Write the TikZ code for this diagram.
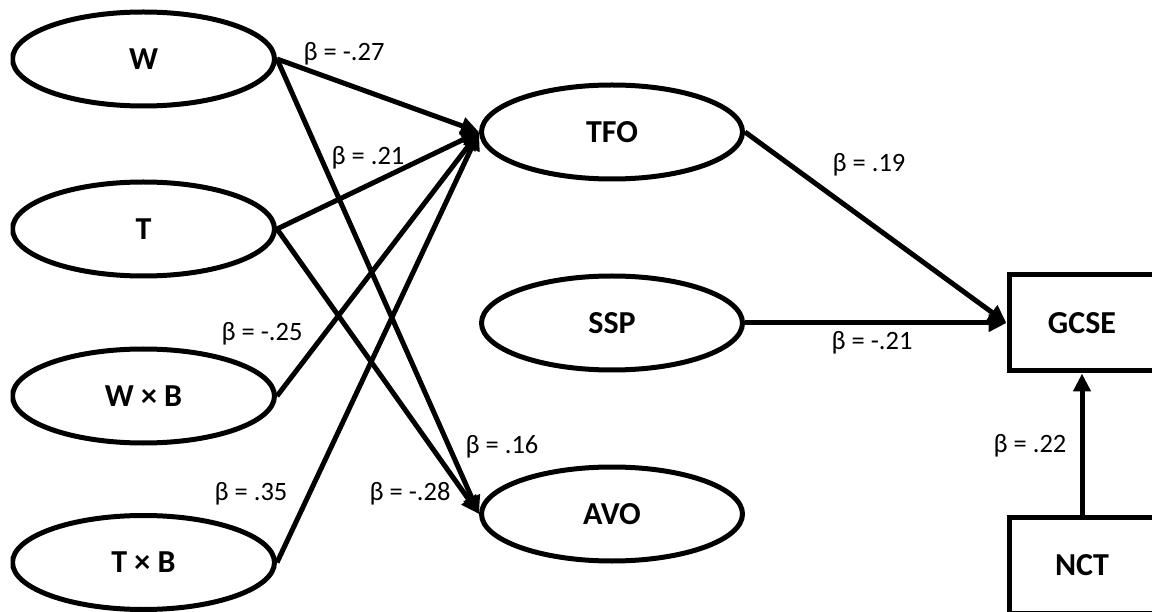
\documentclass[tikz,border=0pt]{standalone}
\usepackage{fontspec}
\setmainfont{Carlito}
\usetikzlibrary{arrows.meta,shapes.geometric}
\begin{document}
\begin{tikzpicture}[x=1pt,y=-1pt,
  var/.style={draw=black,line width=5pt,ellipse,inner sep=0pt,minimum width=262pt,minimum height=94pt,font=\fontsize{32}{38}\selectfont\bfseries},
  obs/.style={draw=black,line width=5pt,rectangle,inner sep=0pt,minimum width=146pt,minimum height=96pt,font=\fontsize{32}{38}\selectfont\bfseries},
  path/.style={line width=5pt,-{Triangle[length=18pt,width=17pt]}},
  coef/.style={font=\fontsize{26.5}{32}\selectfont,inner sep=0pt}]
\useasboundingbox (0,0) rectangle (1152,612);
\begin{scope}
\clip (10.5,0) rectangle (1152,612);
\node[var] (w) at (143.5,59) {W};
\node[var] (t) at (143.5,229) {T};
\node[var] (wb) at (143.5,396) {W × B};
\node[var] (tb) at (143.5,562.5) {T × B};
\node[var,minimum width=261pt] (tfo) at (612,132) {TFO};
\node[var,minimum width=261pt] (ssp) at (612,323) {SSP};
\node[var,minimum width=261pt] (avo) at (612,514) {AVO};
\node[obs] (gcse) at (1082,323) {GCSE};
\node[obs] (nct) at (1082,565) {NCT};
\draw[path] (w.east) -- (tfo.west);
\draw[path] (w.east) -- (avo.west);
\draw[path] (t.east) -- (tfo.west);
\draw[path] (t.east) -- (avo.west);
\draw[path] (wb.east) -- (tfo.west);
\draw[path] (tb.east) -- (tfo.west);
\draw[path] (tfo.east) -- (gcse.west);
\draw[path] (ssp.east) -- (gcse.west);
\draw[path] (nct.north) -- (gcse.south);
\end{scope}
\node[coef] (l1) at (344,54) {β = -.27};
\node[coef] (l2) at (368,158) {β = .21};
\node[coef] (l3) at (262,334) {β = -.25};
\node[coef] (l4) at (251,494) {β = .35};
\node[coef] (l5) at (410,494) {β = -.28};
\node[coef] (l6) at (502,447) {β = .16};
\node[coef] (l7) at (869,165) {β = .19};
\node[coef] (l8) at (872,343) {β = -.21};
\node[coef] (l9) at (1030,446) {β = .22};
\end{tikzpicture}
\end{document}
